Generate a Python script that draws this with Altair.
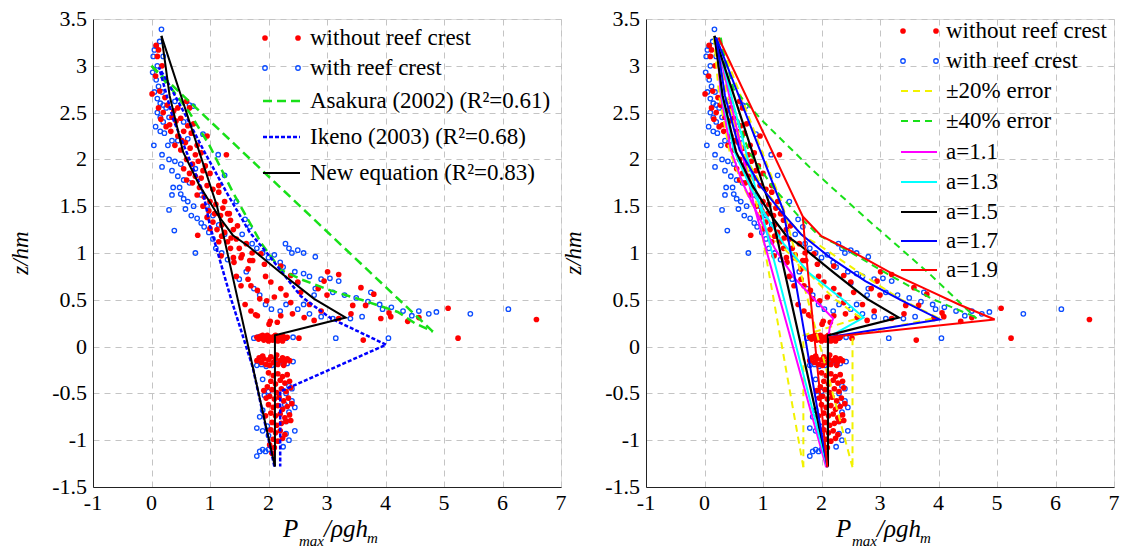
import altair as alt
import pandas as pd

FONT = "'Liberation Serif', 'Times New Roman', serif"
W = H = 468
XDOM = [-1, 7]
YDOM = [-1.5, 3.5]
X_TICKS = [-1, 0, 1, 2, 3, 4, 5, 6, 7]
Y_TICKS = [-1.5, -1, -0.5, 0, 0.5, 1, 1.5, 2, 2.5, 3, 3.5]

# ---------------- measured points (same data in both panels) ----------------
RED_PTS = [
    (0.08,3.22),(0.12,3.17),(0.10,3.10),(0.18,3.00),(0.07,2.89),(0.01,2.70),(0.14,2.73),(0.23,2.66),
    (0.12,2.55),(0.20,2.50),(0.16,2.43),(0.27,2.58),(0.38,2.52),(0.31,2.37),(0.42,2.41),(0.50,2.44),
    (0.60,2.62),(0.65,2.55),(0.33,2.30),(0.45,2.25),(0.55,2.30),(0.62,2.36),(0.72,2.38),(0.58,2.18),
    (0.40,2.15),(0.50,2.10),(0.66,2.12),(0.75,2.05),(0.85,2.07),(0.95,2.25),(0.60,2.00),(0.70,1.95),
    (0.80,1.98),(0.92,1.93),(0.55,1.90),(0.65,1.85),(0.75,1.82),(0.85,1.80),(1.00,1.85),(1.28,2.05),
    (0.70,1.75),(0.82,1.70),(0.95,1.72),(1.05,1.68),(1.15,1.65),(1.15,1.72),(0.78,1.62),(0.90,1.60),
    (1.00,1.55),(1.10,1.52),(1.25,1.55),(0.88,1.50),(0.98,1.45),(1.08,1.42),(1.18,1.40),(1.30,1.42),
    (0.95,1.38),(1.05,1.33),(1.20,1.30),(1.35,1.35),(1.12,1.25),(1.25,1.22),(1.40,1.25),(1.45,1.15),
    (1.30,1.12),(1.20,1.18),(0.79,1.19),(1.35,1.05),(1.50,1.05),(1.62,1.10),(1.72,1.00),(1.55,0.98),
    (1.40,0.95),(1.68,0.92),(0.45,2.55),(0.35,2.45),(0.25,2.35),(0.52,2.20),(0.68,2.28),(0.78,2.15),
    (0.88,1.88),(0.60,1.78),(1.22,1.48),(1.00,1.26),(1.15,1.12),(1.33,1.42),(1.47,1.29),(1.36,1.16),
    (1.19,0.97),(1.41,0.90),(1.53,0.95),(1.65,0.83),(1.73,0.92),(1.87,0.99),(1.93,0.88),(2.21,0.86),
    (2.38,0.76),(2.50,0.69),(2.04,0.69),(2.21,0.62),(1.53,0.65),(1.65,0.72),(1.70,0.65),(1.81,0.60),
    (1.85,0.51),(1.97,0.49),(2.10,0.53),(1.60,0.45),(1.70,0.38),(1.78,0.34),(1.81,0.33),(2.01,0.24),
    (2.03,0.27),(2.15,0.26),(2.21,0.33),(2.41,0.35),(2.38,0.47),(2.55,0.58),(2.61,0.31),(2.70,0.45),
    (2.78,0.28),(2.85,0.62),(2.90,0.38),(2.95,0.70),(3.00,0.55),(3.01,0.80),(3.20,0.77),(3.20,0.30),
    (3.41,0.35),(3.44,0.44),(3.58,0.63),(3.66,0.44),(3.80,0.56),(3.92,0.30),(4.06,0.36),(4.09,0.32),
    (4.38,0.27),(4.57,0.31),(5.07,0.41),(5.24,0.09),(6.58,0.29),(3.62,0.07),(2.52,0.09),(1.95,0.75),
    (2.30,0.55),(1.45,0.75),
    (1.80,0.10),(1.83,0.08),(1.86,0.11),(1.89,0.09),(1.92,0.07),(1.95,0.10),(1.98,0.12),(2.01,0.08),
    (2.04,0.10),(2.07,0.07),(2.10,0.11),(2.13,0.09),(2.16,0.06),(2.19,0.10),(2.22,0.08),(2.25,0.11),
    (2.28,0.09),(2.32,0.10),(1.90,0.12),(2.00,0.06),(2.12,0.12),(2.24,0.06),
    (1.80,-0.15),(1.84,-0.12),(1.88,-0.17),(1.92,-0.13),(1.96,-0.19),(2.00,-0.14),(2.04,-0.11),
    (2.08,-0.17),(2.12,-0.13),(2.16,-0.19),(2.20,-0.15),(2.24,-0.12),(2.28,-0.16),(2.32,-0.13),
    (2.36,-0.15),(1.90,-0.10),(2.02,-0.20),(2.14,-0.09),(2.26,-0.20),
    (2.00,-0.28),(2.08,-0.31),(2.16,-0.29),(2.24,-0.32),(2.32,-0.30),(2.04,-0.37),(2.12,-0.40),
    (2.20,-0.36),(2.28,-0.39),(2.36,-0.37),(1.98,-0.43),(2.06,-0.46),(2.14,-0.49),(2.22,-0.45),
    (2.30,-0.48),(2.38,-0.44),(1.92,-0.47),(2.02,-0.53),(2.10,-0.56),(2.18,-0.54),(2.26,-0.58),
    (2.34,-0.55),(2.00,-0.62),(2.08,-0.65),(2.16,-0.63),(2.24,-0.67),(2.32,-0.64),(2.40,-0.61),
    (2.04,-0.71),(2.12,-0.74),(2.20,-0.72),(2.28,-0.76),(2.36,-0.73),(2.06,-0.81),(2.14,-0.84),
    (2.22,-0.82),(2.30,-0.80),(2.38,-0.79),(2.04,-0.89),(2.12,-0.92),(2.20,-0.90),(2.28,-0.94),
    (2.08,-0.99),(2.16,-1.01),(2.24,-0.98),(2.02,-1.05),(2.10,-1.08),(2.06,-1.14),(1.96,-0.55),
    (1.95,-0.74),
]

BLUE_PTS = [
    (0.17,3.39),(0.05,3.17),(0.08,3.21),(0.03,3.10),(0.14,3.26),(0.20,3.10),(0.10,3.00),(0.02,2.93),
    (0.08,2.85),(0.12,2.78),(0.18,2.72),(0.05,2.72),(0.10,2.65),(0.15,2.60),(0.20,2.58),(0.25,2.55),
    (0.10,2.50),(0.15,2.45),(0.20,2.40),(0.30,2.45),(0.07,2.35),(0.15,2.30),(0.22,2.28),(0.35,2.20),
    (0.28,2.15),(0.45,2.20),(0.04,2.15),(0.18,2.05),(0.30,2.00),(0.40,1.98),(0.50,1.95),(0.18,1.92),
    (0.35,1.88),(0.45,1.82),(0.55,1.78),(0.65,1.75),(0.48,1.70),(0.37,1.70),(0.50,1.63),(0.35,1.62),
    (0.55,1.58),(0.62,1.55),(0.72,1.50),(0.58,1.47),(0.30,1.46),(0.68,1.40),(0.78,1.37),(0.85,1.32),
    (0.90,1.28),(0.98,1.22),(0.39,1.24),(0.75,1.00),(1.05,1.15),(1.10,1.05),(1.20,1.00),(1.30,0.93),
    (0.71,2.57),(0.65,2.58),(0.88,2.27),(1.14,2.05),(1.25,1.83),(0.40,2.62),(0.55,2.40),(0.62,2.22),
    (0.75,1.90),(0.85,1.62),(0.95,1.50),(1.05,1.40),(1.15,1.30),(1.25,1.20),
    (1.45,1.55),(1.60,1.36),(1.68,1.28),(1.55,1.20),(1.72,1.10),(1.80,1.05),(1.90,1.00),(2.00,0.95),
    (2.10,0.98),(2.20,0.90),(2.29,1.10),(2.35,1.05),(2.40,1.00),(2.50,1.03),(2.60,1.00),(2.80,0.96),
    (2.25,0.85),(2.45,0.80),(2.60,0.78),(2.70,0.75),(2.90,0.72),(3.05,0.73),(3.20,0.70),(2.50,0.68),
    (2.80,0.62),(3.10,0.58),(3.30,0.55),(3.50,0.52),(3.70,0.48),(3.90,0.45),(4.10,0.42),(4.30,0.38),
    (4.45,0.33),(4.57,0.38),(4.74,0.35),(4.87,0.37),(5.45,0.35),(6.10,0.40),(3.15,0.09),(4.05,0.09),
    (2.30,0.45),(2.50,0.40),(2.70,0.35),(2.90,0.32),(3.10,0.30),(3.40,0.30),(3.60,0.32),(1.85,0.55),
    (1.95,0.45),(2.05,0.40),(2.20,0.38),(1.75,0.62),(2.60,0.45),(3.75,0.58),(3.95,0.40),(2.78,0.55),
    (1.62,0.80),(1.50,0.72),
    (1.75,0.09),(1.82,0.10),(1.90,0.11),(2.00,0.10),(2.10,0.09),(2.20,0.10),(2.30,0.09),(2.42,0.10),
    (1.80,-0.20),(1.88,-0.19),(1.96,-0.21),(2.06,-0.20),(2.16,-0.18),(2.26,-0.19),(2.32,-0.18),(2.42,-0.16),
    (1.90,-0.35),(2.00,-0.48),(1.93,-0.52),(2.35,-0.42),(2.40,-0.45),(2.30,-0.50),(1.90,-0.68),(2.45,-0.65),
    (2.35,-0.70),(1.85,-0.75),(2.30,-0.80),(1.80,-0.87),(1.90,-0.90),(2.00,-0.95),(2.30,-0.93),(2.45,-0.90),
    (2.35,-1.00),(1.80,-1.17),(1.85,-1.12),(1.90,-1.10),(1.95,-1.12),(2.00,-1.10),(2.25,-1.07),(1.98,-0.85),
    (2.40,-0.58),(2.28,-0.62),
]

# ---------------- left panel curves ----------------
ASAKURA_CURVE = [(0,3.0),(0.35,2.75),(0.65,2.5),(0.99,2.15),(1.39,1.65),(1.87,1.11),(2.21,0.82),
                 (2.55,0.72),(3.06,0.60),(3.64,0.49),(4.21,0.37),(4.5,0.25),(4.81,0.16)]
ASAKURA_LINE = [(0,3.0),(4.81,0.16)]
IKENO = [(2.1,-1.28),(1.73,-0.22),(1.36,0.51),(1.0,1.29),(0.88,1.65),(0.65,2.0),(0.37,2.43),(0.13,2.98),
         (0.3,2.8),(0.6,2.45),(0.88,2.11),(1.28,1.65),(1.68,1.22),(2.0,0.98),(2.55,0.54),(3.07,0.30),
         (4.01,0.02),(2.2,-0.48),(2.2,-1.28)]
NEWEQ_CURVE = [(0.17,3.32),(0.31,2.68),(0.54,2.08),(0.82,1.72),(1.14,1.4),(1.39,1.19),(1.64,1.08),
               (2.21,0.79),(2.78,0.51),(3.32,0.31),(2.11,0.12),(2.11,-1.28)]
NEWEQ_LINE = [(0.17,3.32),(1.12,1.5),(2.11,-1.28)]

# ---------------- right panel curves ----------------
ERR20_LOW = [[(0.16,3.3),(0.9,1.5),(1.69,-1.29)],
             [(0.16,3.3),(0.25,2.68),(0.43,2.08),(0.66,1.72),(0.91,1.4),(1.11,1.19),(1.31,1.08),
              (1.77,0.79),(2.22,0.51),(2.66,0.31),(1.69,0.12),(1.69,-1.29)]]
ERR20_HIGH = [[(0.24,3.3),(1.34,1.5),(2.53,-1.29)],
              [(0.24,3.3),(0.37,2.68),(0.65,2.08),(0.98,1.72),(1.37,1.4),(1.67,1.19),(1.97,1.08),
               (2.65,0.79),(3.34,0.51),(3.98,0.31),(2.53,0.12),(2.53,-1.29)]]
ERR40 = [[(0.28,3.3),(0.43,2.68),(0.76,2.08),(1.15,1.72),(1.6,1.4),(1.95,1.19),(2.3,1.08),
          (3.09,0.79),(3.89,0.51),(4.65,0.31)],
         [(0.25,3.3),(0.5,2.75),(1.01,2.4),(1.84,1.89),(2.8,1.35),(3.86,0.77),(4.65,0.3)]]
A11 = [[(0.2,3.3),(0.85,1.5),(2.08,-1.29)],
       [(0.2,3.3),(0.28,2.68),(0.45,2.1),(0.65,1.75),(0.88,1.45),(1.2,1.05),(1.53,0.74),(1.9,0.49),
        (2.2,0.3),(2.14,0.2),(2.12,0.1)]]
A13 = [[(0.2,3.3),(0.95,1.5),(2.1,-1.29)],
       [(0.2,3.3),(0.3,2.68),(0.5,2.1),(0.75,1.75),(1.0,1.45),(1.35,1.1),(1.8,0.78),(2.39,0.49),
        (2.72,0.31),(2.12,0.1)]]
A15 = [NEWEQ_LINE, NEWEQ_CURVE]
A17 = [[(0.2,3.3),(1.35,1.45),(2.1,-1.29)],
       [(0.2,3.3),(0.35,2.68),(0.6,2.1),(0.95,1.72),(1.3,1.45),(1.65,1.2),(2.15,0.95),(2.75,0.7),
        (3.35,0.5),(4.02,0.29),(2.12,0.1)]]
A19 = [[(0.24,3.3),(1.68,1.39),(1.71,1.16),(2.1,-1.29)],
       [(1.68,1.39),(2.0,1.18),(2.51,1.02),(3.24,0.77),(3.73,0.63),(4.35,0.45),(4.96,0.29),(2.12,0.1)]]

RED = "#ff0000"
BLUE_PT = "#0a4bff"
GREEN = "#18e018"
YELLOW = "#f2f200"

XS = alt.Scale(domain=XDOM, nice=False, zero=False)
YS = alt.Scale(domain=YDOM, nice=False, zero=False)


def xenc():
    return alt.X("x:Q", scale=XS,
                 axis=alt.Axis(values=X_TICKS, title=None, grid=True, gridDash=[6, 5],
                               gridColor="#c4c4c4", labels=False, ticks=False,
                               domainColor="#222222"))


def yenc():
    return alt.Y("y:Q", scale=YS,
                 axis=alt.Axis(values=Y_TICKS, title=None, grid=True, gridDash=[6, 5],
                               gridColor="#c4c4c4", labels=False, ticks=False,
                               domainColor="#222222"))


def tick_labels():
    xdf = pd.DataFrame({"x": X_TICKS, "lab": [f"{v:g}" for v in X_TICKS]})
    ydf = pd.DataFrame({"y": Y_TICKS, "lab": [f"{v:g}" for v in Y_TICKS]})
    xl = alt.Chart(xdf).mark_text(align="center", baseline="top", font=FONT, fontSize=22,
                                  color="black").encode(
        x=alt.X("x:Q", scale=XS), y=alt.value(H + 6), text="lab:N")
    yl = alt.Chart(ydf).mark_text(align="right", baseline="middle", font=FONT, fontSize=22,
                                  color="black").encode(
        y=alt.Y("y:Q", scale=YS), x=alt.value(-6), text="lab:N")
    return [xl, yl]


def points():
    red = alt.Chart(pd.DataFrame(RED_PTS, columns=["x", "y"])).mark_circle(
        color=RED, size=32, opacity=1).encode(x=xenc(), y=yenc())
    blue = alt.Chart(pd.DataFrame(BLUE_PTS, columns=["x", "y"])).mark_point(
        shape="circle", color=BLUE_PT, size=20, strokeWidth=1.3, filled=False,
        opacity=1).encode(x=xenc(), y=yenc())
    return [blue, red]


def lines(paths, color, width, dash=None):
    rows = []
    for pid, path in enumerate(paths):
        for i, (x, y) in enumerate(path):
            rows.append({"x": x, "y": y, "pid": pid, "i": i})
    kw = dict(color=color, strokeWidth=width, clip=True)
    if dash:
        kw["strokeDash"] = dash
    return alt.Chart(pd.DataFrame(rows)).mark_line(**kw).encode(
        x=xenc(), y=yenc(), detail="pid:N", order="i:Q")


ONE = pd.DataFrame({"k": [0]})


def ltext(x, y, s, size=23):
    return alt.Chart(ONE).mark_text(align="left", baseline="middle", font=FONT,
                                    fontSize=size, color="black").encode(
        x=alt.value(x), y=alt.value(y), text=alt.value(s))


def lred(x, y):
    return alt.Chart(ONE).mark_circle(color=RED, size=32, opacity=1).encode(
        x=alt.value(x), y=alt.value(y))


def lblue(x, y):
    return alt.Chart(ONE).mark_point(shape="circle", color=BLUE_PT, size=20,
                                     strokeWidth=1.3, filled=False, opacity=1).encode(
        x=alt.value(x), y=alt.value(y))


def lline(x1, x2, y, color, width, dash=None):
    kw = dict(color=color, strokeWidth=width)
    if dash:
        kw["strokeDash"] = dash
    return alt.Chart(ONE).mark_rule(**kw).encode(x=alt.value(x1), x2=alt.value(x2),
                                                 y=alt.value(y))


def titles():
    out = []
    parts = [("P", 190, 518, 25), ("max", 206, 527, 15), ("/ρgh", 231, 518, 25),
             ("m", 274, 524, 15)]
    for s, x, y, fs in parts:
        out.append(alt.Chart(ONE).mark_text(align="left", baseline="alphabetic", font=FONT,
                                            fontSize=fs, fontStyle="italic",
                                            color="black").encode(
            x=alt.value(x), y=alt.value(y), text=alt.value(s)))
    out.append(alt.Chart(ONE).mark_text(align="center", baseline="middle", font=FONT,
                                        fontSize=23, fontStyle="italic", angle=270,
                                        color="black").encode(
        x=alt.value(-72), y=alt.value(234), text=alt.value("z/hm")))
    return out


# ---------------- left panel ----------------
left_layers = points() + [
    lines([ASAKURA_CURVE, ASAKURA_LINE], GREEN, 2.5, [9, 5]),
    lines([IKENO], "#0000ff", 2.5, [4, 2]),
    lines([NEWEQ_CURVE, NEWEQ_LINE], "black", 2),
    lred(172, 19), lred(205, 19), ltext(217, 19, "without reef crest"),
    lblue(172, 49), lblue(205, 49), ltext(217, 49, "with reef crest"),
    lline(170, 207, 82, GREEN, 2.5, [9, 5]), ltext(217, 82, "Asakura (2002) (R²=0.61)"),
    lline(170, 207, 118, "#0000ff", 2.5, [4, 2]), ltext(217, 118, "Ikeno (2003) (R²=0.68)"),
    lline(170, 207, 154, "black", 2), ltext(217, 154, "New equation (R²=0.83)"),
] + tick_labels() + titles()
left = alt.layer(*left_layers).properties(width=W, height=H)

# ---------------- right panel ----------------
right_layers = points() + [
    lines(ERR20_LOW + ERR20_HIGH, YELLOW, 2, [7, 5]),
    lines(ERR40, GREEN, 2, [7, 5]),
    lines(A11, "#ff00ff", 2),
    lines(A13, "#00ffff", 2),
    lines(A15, "black", 2.2),
    lines(A17, "#0000ff", 2),
    lines(A19, RED, 2),
    lred(257, 12), lred(290, 12), ltext(300, 12, "without reef crest"),
    lblue(257, 42), lblue(290, 42), ltext(300, 42, "with reef crest"),
    lline(255, 291, 72, YELLOW, 2, [7, 5]), ltext(300, 72, "±20% error"),
    lline(255, 291, 102, GREEN, 2, [7, 5]), ltext(300, 102, "±40% error"),
    lline(255, 291, 133, "#ff00ff", 2), ltext(300, 133, "a=1.1"),
    lline(255, 291, 163, "#00ffff", 2), ltext(300, 163, "a=1.3"),
    lline(255, 291, 193, "black", 2), ltext(300, 193, "a=1.5"),
    lline(255, 291, 222, "#0000ff", 2), ltext(300, 222, "a=1.7"),
    lline(255, 291, 251, RED, 2), ltext(300, 251, "a=1.9"),
] + tick_labels() + titles()
right = alt.layer(*right_layers).properties(width=W, height=H)

chart = alt.hconcat(left, right, spacing=85, bounds="flush").properties(
    padding={"left": 9, "top": 7, "right": 0, "bottom": 0}
).configure_view(stroke="#222222", strokeWidth=1).configure(background="white")

chart.save("out.html", embed_options={"renderer": "svg", "actions": False})
